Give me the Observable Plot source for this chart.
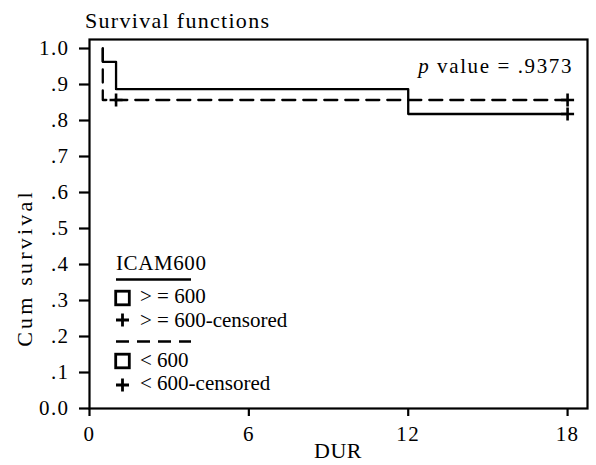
<!DOCTYPE html>
<html>
<head>
<meta charset="utf-8">
<script src="https://cdn.jsdelivr.net/npm/d3@7"></script>
<script src="https://cdn.jsdelivr.net/npm/@observablehq/plot@0.6"></script>
<style>
  html, body { margin: 0; padding: 0; background: #fff; }
  #chart svg { display: block; }
  #chart svg, #chart svg text, #chart svg tspan {
    font-family: "Liberation Serif", "Times New Roman", Times, serif !important;
  }
  #chart svg [aria-label$="tick label"] text { letter-spacing: 1.4px; }
</style>
</head>
<body>
<div id="chart"></div>
<script>
// ---- data ----
const groups = [">= 600", "< 600"];
const legendLabels = ["> = 600", "< 600"];
const censorLabels = ["> = 600-censored", "< 600-censored"];

// Kaplan–Meier step points per group (time in DUR, cumulative survival)
const timeHigh = [0.5, 0.5, 1, 12, 18];
const survHigh = [1.0, 0.963, 0.887, 0.818, 0.818];
const timeLow = [0.5, 0.5, 18];
const survLow = [1.0, 0.857, 0.857];

// censored observations
const censorTimeHigh = [18];
const censorSurvHigh = [0.818];
const censorTimeLow = [1, 18];
const censorSurvLow = [0.857, 0.857];

const xTicks = [0, 6, 12, 18];
const yTicks = [0, 0.1, 0.2, 0.3, 0.4, 0.5, 0.6, 0.7, 0.8, 0.9, 1.0];
const yTickLabels = ["0.0", ".1", ".2", ".3", ".4", ".5", ".6", ".7", ".8", ".9", "1.0"];

const title = "Survival functions";
const xLabel = "DUR";
const yLabel = "Cum survival";
const legendTitle = "ICAM600";
const pValueText = ".9373";

// ---- tables built from the arrays ----
const highRows = timeHigh.map((t, i) => ({t, s: survHigh[i], group: groups[0]}));
const lowRows = timeLow.map((t, i) => ({t, s: survLow[i], group: groups[1]}));
const censorRows = [
  ...censorTimeHigh.map((t, i) => ({t, s: censorSurvHigh[i], group: groups[0]})),
  ...censorTimeLow.map((t, i) => ({t, s: censorSurvLow[i], group: groups[1]}))
];
const yLabelMap = new Map(yTicks.map((v, i) => [Math.round(v * 10), yTickLabels[i]]));

// plus symbol drawn as two strokes
const plusSym = {
  draw(ctx, size) {
    const r = Math.sqrt(size / Math.PI);
    ctx.moveTo(-r, 0); ctx.lineTo(r, 0);
    ctx.moveTo(0, -r); ctx.lineTo(0, r);
  }
};

const W = 596, H = 465;
const M = {left: 89, right: 9, top: 39, bottom: 57};
const DASH = "13,8";
const FONT = "'Liberation Serif', 'Times New Roman', Times, serif";

const plot = Plot.plot({
  width: W,
  height: H,
  marginLeft: M.left,
  marginRight: M.right,
  marginTop: M.top,
  marginBottom: M.bottom,
  style: {fontFamily: FONT, fontSize: "21px", color: "black", background: "white"},
  x: {domain: [0, 18.75]},
  y: {domain: [0, 1.025]},
  marks: [
    Plot.axisX({ticks: xTicks, tickSize: 8, tickPadding: 10, strokeWidth: 2.2, label: null, tickFormat: d => String(d)}),
    Plot.axisY({ticks: yTicks, tickSize: 10, tickPadding: 10, strokeWidth: 2.2, label: null,
      tickFormat: d => yLabelMap.get(Math.round(d * 10))}),
    Plot.line(lowRows, {x: "t", y: "s", curve: "step-after", stroke: "black", strokeWidth: 2.3, strokeDasharray: DASH}),
    Plot.line(highRows, {x: "t", y: "s", curve: "step-after", stroke: "black", strokeWidth: 2.3}),
    Plot.dot(censorRows, {x: "t", y: "s", symbol: plusSym, r: 6.5, stroke: "black", strokeWidth: 2.6, fill: "none"}),
    Plot.frame({stroke: "black", strokeWidth: 2.2})
  ]
});

plot.setAttribute("font-family", FONT);
document.getElementById("chart").appendChild(plot);

// ---- annotations and in-plot legend ----
const svg = d3.select(plot);
const g = svg.append("g").attr("fill", "black").attr("font-family", FONT);

function txt(x, y, s, opts = {}) {
  const t = g.append("text").attr("x", x).attr("y", y).text(s)
    .attr("font-size", opts.size || 21)
    .attr("text-anchor", opts.anchor || "start");
  if (opts.ls) t.attr("letter-spacing", opts.ls);
  if (opts.rotate) t.attr("transform", `rotate(${opts.rotate},${x},${y})`);
  return t;
}

// title
txt(85, 28, title, {size: 22, ls: 1.3});
// axis labels
txt((M.left + (W - M.right)) / 2, 458, xLabel, {anchor: "middle", size: 22, ls: 0.5});
txt(32, 268, yLabel, {anchor: "middle", size: 22, ls: 3.2, rotate: -90});
// p value
const pv = g.append("text").attr("x", 573).attr("y", 73).attr("text-anchor", "end")
  .attr("font-size", 21).attr("letter-spacing", 1.6);
pv.append("tspan").attr("font-style", "italic").text("p");
pv.append("tspan").text(" value = " + pValueText);

// legend
const lx = 116, lineEnd = 191, sx = 122.5, tx = 140;
txt(lx, 270, legendTitle, {size: 21, ls: 0.6});
g.append("line").attr("x1", lx).attr("x2", lineEnd).attr("y1", 279.5).attr("y2", 279.5)
  .attr("stroke", "black").attr("stroke-width", 2.5);
g.append("line").attr("x1", lx).attr("x2", lineEnd).attr("y1", 341.5).attr("y2", 341.5)
  .attr("stroke", "black").attr("stroke-width", 2.5).attr("stroke-dasharray", DASH);

const legendRows = [
  {sq: 298, plus: 320, t1: 303, t2: 327, i: 0},
  {sq: 361, plus: 385, t1: 367, t2: 390, i: 1}
];
for (const r of legendRows) {
  g.append("rect").attr("x", sx - 6.8).attr("y", r.sq - 6.8).attr("width", 13.6).attr("height", 13.6)
    .attr("fill", "none").attr("stroke", "black").attr("stroke-width", 2.8);
  g.append("path").attr("d", `M${sx - 6.5},${r.plus}H${sx + 6.5}M${sx},${r.plus - 6.5}V${r.plus + 6.5}`)
    .attr("fill", "none").attr("stroke", "black").attr("stroke-width", 2.8);
  txt(tx, r.t1, legendLabels[r.i], {size: 21});
  txt(tx, r.t2, censorLabels[r.i], {size: 21});
}
</script>
</body>
</html>
